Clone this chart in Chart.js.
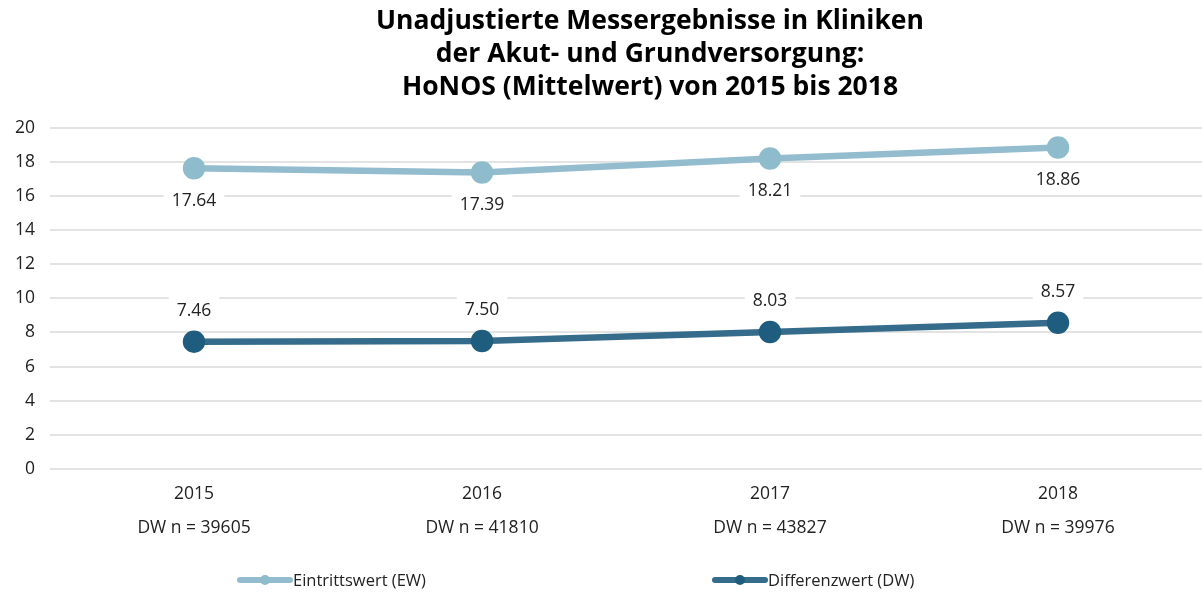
<!DOCTYPE html>
<html>
<head>
<meta charset="utf-8">
<script src="https://cdn.jsdelivr.net/npm/chart.js"></script>
<style>
  html, body { margin: 0; padding: 0; background: #fff; }
  #wrap { width: 1202px; height: 592px; }
</style>
</head>
<body>
<div id="wrap"><canvas id="chart"></canvas></div>
<script>
const years = ['2015', '2016', '2017', '2018'];
const dwCounts = ['DW n = 39605', 'DW n = 41810', 'DW n = 43827', 'DW n = 39976'];
const eintrittswert = [17.64, 17.39, 18.21, 18.86];
const differenzwert = [7.46, 7.50, 8.03, 8.57];
const titleLines = [
  'Unadjustierte Messergebnisse in Kliniken',
  'der Akut- und Grundversorgung:',
  'HoNOS (Mittelwert) von 2015 bis 2018'
];

const FONT = '"Open Sans", "Noto Sans", sans-serif';

// title, value labels and legend are drawn by hand
const extras = {
  id: 'extras',
  afterDraw(chart) {
    const ctx = chart.ctx;
    ctx.save();
    // title
    ctx.fillStyle = '#000';
    ctx.font = 'bold 26.5px ' + FONT;
    ctx.textAlign = 'center';
    ctx.textBaseline = 'middle';
    titleLines.forEach((t, i) => ctx.fillText(t, 650, 21 + i * 33));

    // value labels
    ctx.font = '17.5px ' + FONT;
    chart.data.datasets.forEach((ds, di) => {
      const meta = chart.getDatasetMeta(di);
      meta.data.forEach((pt, i) => {
        const txt = ds.data[i].toFixed(2);
        const y = pt.y + (di === 0 ? 32 : -32);
        const w = ctx.measureText(txt).width + 16;
        ctx.fillStyle = '#fff';
        ctx.fillRect(pt.x - w / 2, y - 13, w, 26);
        ctx.fillStyle = '#222';
        ctx.fillText(txt, pt.x, y + 1);
      });
    });

    // legend
    const items = [
      { x: 240, ds: chart.data.datasets[0] },
      { x: 715, ds: chart.data.datasets[1] }
    ];
    const ly = 580;
    items.forEach(it => {
      ctx.strokeStyle = it.ds.borderColor;
      ctx.lineWidth = 6;
      ctx.lineCap = 'round';
      ctx.beginPath();
      ctx.moveTo(it.x, ly);
      ctx.lineTo(it.x + 50, ly);
      ctx.stroke();
      ctx.fillStyle = it.ds.pointBackgroundColor;
      ctx.beginPath();
      ctx.arc(it.x + 25, ly, 5, 0, Math.PI * 2);
      ctx.fill();
      ctx.fillStyle = '#222';
      ctx.textAlign = 'left';
      ctx.font = '16.5px ' + FONT;
      ctx.fillText(it.ds.label, it.x + 53, ly + 1);
    });
    ctx.restore();
  }
};

new Chart(document.getElementById('chart'), {
  type: 'line',
  data: {
    labels: years.map((y, i) => [y, dwCounts[i]]),
    datasets: [
      {
        label: 'Eintrittswert (EW)',
        data: eintrittswert,
        borderColor: '#93bdce',
        backgroundColor: '#93bdce',
        pointBackgroundColor: '#8fbccd',
        pointBorderColor: '#8fbccd',
        borderWidth: 6.5,
        pointRadius: 8,
        tension: 0
      },
      {
        label: 'Differenzwert (DW)',
        data: differenzwert,
        borderColor: '#356b8b',
        backgroundColor: '#356b8b',
        pointBackgroundColor: '#1f5d7f',
        pointBorderColor: '#1f5d7f',
        borderWidth: 6.5,
        pointRadius: 8,
        tension: 0
      }
    ]
  },
  options: {
    responsive: true,
    maintainAspectRatio: false,
    animation: false,
    layout: { autoPadding: false, padding: { top: 128, bottom: 47, left: 0, right: 0 } },
    plugins: {
      legend: { display: false },
      title: { display: false },
      tooltip: { enabled: false }
    },
    scales: {
      x: {
        offset: true,
        grid: { display: false },
        border: { display: false },
        ticks: {
          color: '#222',
          font: { family: FONT, size: 17.5, lineHeight: 1.95 },
          padding: 0,
          maxRotation: 0
        }
      },
      y: {
        min: 0,
        max: 20,
        grid: { color: '#e3e3e3', lineWidth: 2, drawTicks: false },
        border: { display: false },
        ticks: {
          stepSize: 2,
          color: '#222',
          font: { family: FONT, size: 17.5 },
          padding: 15
        }
      }
    }
  },
  plugins: [extras]
});
</script>
</body>
</html>
